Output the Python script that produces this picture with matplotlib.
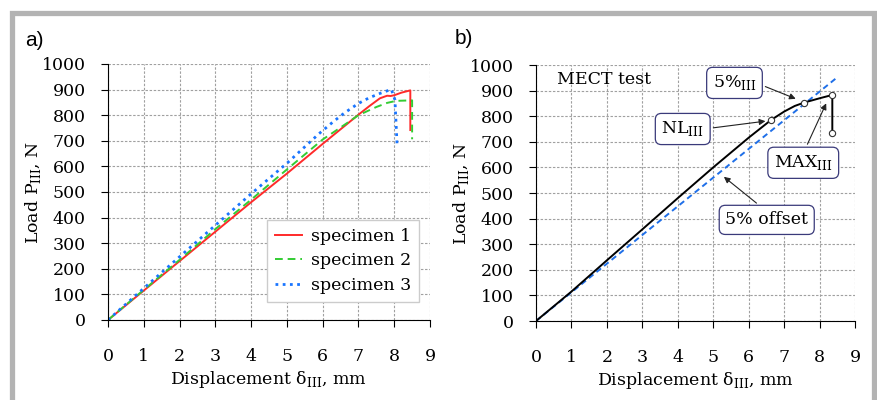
import numpy as np
import matplotlib
matplotlib.use('Agg')
from matplotlib import pyplot as plt
from matplotlib.patches import Rectangle

plt.rcParams['font.family'] = ['DejaVu Serif']
plt.rcParams['mathtext.fontset'] = 'custom'
plt.rcParams['mathtext.rm'] = 'DejaVu Serif'
plt.rcParams['font.size'] = 12

# --- panel a: three specimens ---
s1_x = [0, 1, 2, 3, 4, 5, 6, 7, 7.3, 7.6, 7.8, 7.9, 8.0, 8.2, 8.45, 8.45]
s1_y = [0, 115, 230, 345, 460, 572, 688, 802, 835, 866, 876, 875, 878, 888, 897, 742]

s2_x = [0, 1, 2, 3, 4, 5, 6, 6.5, 7.0, 7.5, 7.8, 8.05, 8.5, 8.5]
s2_y = [0, 118, 235, 355, 470, 588, 705, 752, 800, 832, 848, 856, 858, 706]

s3_x = [0, 1, 2, 3, 4, 5, 5.9, 6.3, 6.6, 7.0, 7.3, 7.6, 7.92, 8.02, 8.08]
s3_y = [0, 124, 247, 370, 493, 612, 728, 775, 808, 846, 868, 885, 901, 860, 684]

labels = ['specimen 1', 'specimen 2', 'specimen 3']

# --- panel b: MECT test ---
b_x = [0, 1, 2, 3, 4, 5, 6, 6.63, 7.0, 7.3, 7.56, 8.0, 8.36, 8.36]
b_y = [0, 115, 237, 358, 480, 600, 716, 785, 818, 840, 853, 870, 883, 735]
off_x = [0, 8.5]
off_y = [0, 952]
pts_x = [6.63, 7.56, 8.36, 8.36]
pts_y = [785, 853, 883, 735]

xticks = np.arange(0, 10, 1)
yticks = np.arange(0, 1100, 100)

fig = plt.figure(figsize=(8.78, 4.0), dpi=100)

# grey frame round the figure
fig.patches.append(Rectangle((12.5/878, -0.1), (874.5-12.5)/878, 1.1 - 13.5/400,
                             transform=fig.transFigure, fill=False,
                             edgecolor='#b3b3b3', linewidth=3.8, zorder=0))


def style(ax):
    ax.set_xlim(0, 9)
    ax.set_ylim(0, 1000)
    ax.set_xticks(xticks)
    ax.set_yticks(yticks)
    ax.spines['top'].set_visible(False)
    ax.spines['right'].set_visible(False)
    ax.grid(True, color='#a0a0a0', linestyle=(0, (2.2, 1.5)), linewidth=0.8)
    ax.tick_params(axis='x', direction='out', length=5, pad=15, labelsize=12.5)
    ax.tick_params(axis='y', direction='out', length=5, pad=11, labelsize=12.5)
    ax.set_xlabel('Displacement δ$_{\\mathrm{III}}$, mm', fontsize=12.5, labelpad=3)
    ax.set_ylabel('Load P$_{\\mathrm{III}}$, N', fontsize=12.5, labelpad=-1)


ax1 = fig.add_axes([108/878, 0.2, 322/878, 0.64])
style(ax1)
ax1.plot(s1_x, s1_y, color='#ff2a2a', lw=1.4, label=labels[0])
ax1.plot(s2_x, s2_y, color='#33cc33', lw=1.4, ls=(0, (4, 2.5)), label=labels[1])
ax1.plot(s3_x, s3_y, color='#1a75ff', lw=2.0, ls=(0, (1, 1.6)), label=labels[2])
ax1.legend(loc='lower right', bbox_to_anchor=(0.966, 0.07), fancybox=False,
           edgecolor='#cccccc', framealpha=1, fontsize=12.5, handlelength=1.6,
           handletextpad=0.5, borderpad=0.45, labelspacing=0.45, borderaxespad=0)
fig.text(25/878, 1 - 40/400, 'a)', family='Liberation Sans', fontsize=15, va='center')

ax2 = fig.add_axes([536/878, 0.1975, 319/878, 0.64])
style(ax2)
ax2.plot(off_x, off_y, color='#1f6fe8', lw=1.4, ls=(0, (3, 2)))
ax2.plot(b_x, b_y, color='black', lw=1.4)
ax2.plot(pts_x, pts_y, ls='none', marker='o', ms=4.5, mfc='white', mec='#333333', mew=0.8)
ax2.text(0.59, 945, 'MECT test', fontsize=12.5, va='center', ha='left')
fig.text(455/878, 1 - 38/400, 'b)', family='Liberation Sans', fontsize=15, va='center')

box = dict(boxstyle='round,pad=0.35', fc='white', ec='#3a3a7a', lw=0.9)
arr = dict(arrowstyle='-|>', color='#222222', lw=0.8, mutation_scale=9)
ax2.annotate('5%$_{\\mathrm{III}}$', xy=(7.4, 864), xytext=(5.6, 930), ha='center', va='center',
             fontsize=12.5, bbox=box, arrowprops=dict(arr, relpos=(1, 0.5)))
ax2.annotate('NL$_{\\mathrm{III}}$', xy=(6.55, 782), xytext=(4.14, 750), ha='center', va='center',
             fontsize=12.5, bbox=box, arrowprops=dict(arr, relpos=(1, 0.5)))
ax2.annotate('MAX$_{\\mathrm{III}}$', xy=(8.22, 860), xytext=(7.54, 618), ha='center', va='center',
             fontsize=12.5, bbox=box, arrowprops=dict(arr, relpos=(0.5, 1)))
ax2.annotate('5% offset', xy=(5.24, 570), xytext=(6.51, 395), ha='center', va='center',
             fontsize=12.5, bbox=box, arrowprops=dict(arr, relpos=(0.5, 1)))

fig.savefig('out.png', dpi=100)
